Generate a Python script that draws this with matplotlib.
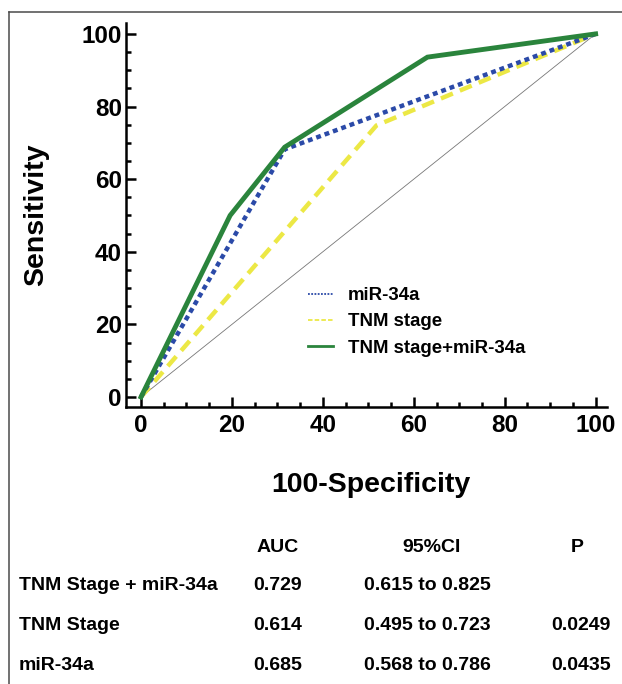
import matplotlib
matplotlib.use("Agg")
import matplotlib.pyplot as plt
from matplotlib.lines import Line2D
from matplotlib.ticker import MultipleLocator

plt.rcParams['font.family'] = ['Liberation Sans', 'DejaVu Sans']
plt.rcParams['font.weight'] = 'bold'

# ROC curve points (100-specificity, sensitivity)
fpr_combo = [0, 19.6, 31.6, 63.0, 100]
sens_combo = [0, 50.0, 68.8, 93.6, 100]
fpr_mir = [0, 31.6, 100]
sens_mir = [0, 68.2, 100]
fpr_tnm = [0, 51.8, 100]
sens_tnm = [0, 74.8, 100]

legend_labels = ['miR-34a', 'TNM stage', 'TNM stage+miR-34a']

# summary table under the plot
table_header = ['AUC', '95%CI', 'P']
row_names = ['TNM Stage + miR-34a', 'TNM Stage', 'miR-34a']
auc_vals = ['0.729', '0.614', '0.685']
ci_vals = ['0.615 to 0.825', '0.495 to 0.723', '0.568 to 0.786']
p_vals = ['', '0.0249', '0.0435']

W, H = 622, 684


def px(x, y):
	# pixel position -> figure fraction
	return x / W, 1 - y / H


fig = plt.figure(figsize=(W / 100, H / 100), dpi=100)
ax = fig.add_axes([126 / W, 1 - 407 / H, 481 / W, 384 / H])

ax.plot([0, 100], [0, 100], color='#777777', lw=0.6)
ax.plot(fpr_tnm, sens_tnm, color='#ece845', lw=3.2, linestyle=(0, (2.9, 1.7)))
ax.plot(fpr_mir, sens_mir, color='#2b4aa8', lw=3.2, linestyle=(0, (1.1, 0.9)))
ax.plot(fpr_combo, sens_combo, color='#2a843c', lw=3.5, solid_joinstyle='miter')

ax.set_xlim(-3.3, 102.5)
ax.set_ylim(-2.75, 103)
ax.spines['top'].set_visible(False)
ax.spines['right'].set_visible(False)
for s in ['left', 'bottom']:
	ax.spines[s].set_linewidth(1.8)
ax.set_xticks([0, 20, 40, 60, 80, 100])
ax.set_xticklabels(['0', '20', '40', '60', '80', '100'], fontweight='bold')
ax.set_yticks([0, 20, 40, 60, 80, 100])
ax.set_yticklabels(['0', '20', '40', '60', '80', '100'], fontweight='bold')
ax.xaxis.set_minor_locator(MultipleLocator(5))
ax.yaxis.set_minor_locator(MultipleLocator(5))
ax.tick_params(which='both', direction='in', width=1.8, labelsize=17.5)
ax.tick_params(which='major', length=7.5)
ax.tick_params(which='minor', length=3.8)
ax.tick_params(axis='x', pad=5)
ax.tick_params(axis='y', pad=3)

ax.set_xlabel('100-Specificity', fontsize=20.5, fontweight='bold', va='center')
ax.xaxis.set_label_coords(0.509, -0.203)
ax.set_ylabel('Sensitivity', fontsize=20.5, fontweight='bold', va='center', ha='center')
ax.yaxis.set_label_coords(-0.187, 0.5)

handles = [
	Line2D([], [], color='#2b4aa8', lw=1.3, linestyle=(0, (1, 0.8))),
	Line2D([], [], color='#ece845', lw=1.3, linestyle=(0, (2.5, 1.2))),
	Line2D([], [], color='#2a843c', lw=2.0),
]
fig.legend(handles, legend_labels, loc='upper left', bbox_to_anchor=px(308, 287),
	frameon=False, borderpad=0, borderaxespad=0, handlelength=1.35,
	handletextpad=0.8, labelspacing=0.5, prop={'size': 13.4, 'weight': 'bold'})

# table
fs = 14
hy = 547
fig.text(*px(278, hy), table_header[0], ha='center', va='center', fontsize=fs, fontweight='bold')
fig.text(*px(432, hy), table_header[1], ha='center', va='center', fontsize=fs, fontweight='bold')
fig.text(*px(577, hy), table_header[2], ha='center', va='center', fontsize=fs, fontweight='bold')
row_y = [586, 626, 666]
for i in range(len(row_names)):
	y = row_y[i]
	fig.text(*px(19, y), row_names[i], ha='left', va='center', fontsize=fs, fontweight='bold')
	fig.text(*px(278, y), auc_vals[i], ha='center', va='center', fontsize=fs, fontweight='bold')
	fig.text(*px(427, y), ci_vals[i], ha='center', va='center', fontsize=fs, fontweight='bold')
	if p_vals[i]:
		fig.text(*px(581, y), p_vals[i], ha='center', va='center', fontsize=fs, fontweight='bold')

# frame lines of the cropped panel
fig.add_artist(Line2D([9 / W, 9 / W], [0, 1 - 12 / H], color='#4a4a4a', lw=1.1))
fig.add_artist(Line2D([9 / W, 1], [1 - 12 / H, 1 - 12 / H], color='#4a4a4a', lw=1.1))

fig.savefig('out.png', dpi=100)
